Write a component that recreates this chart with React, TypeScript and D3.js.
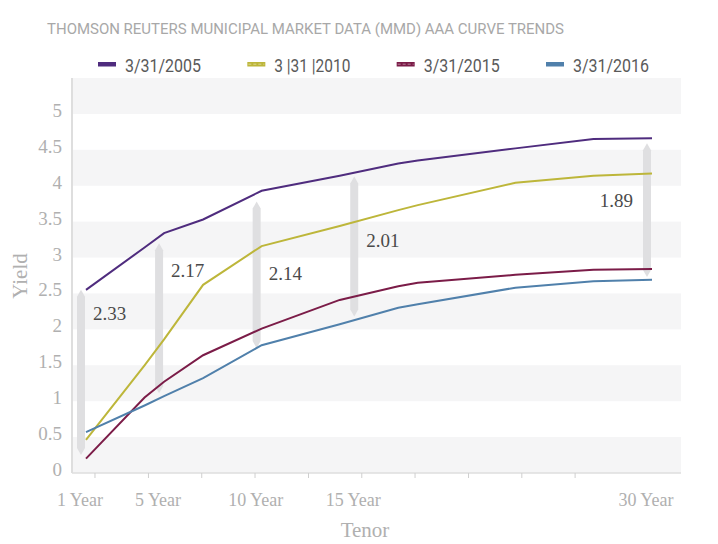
import React from 'react'
import * as d3 from 'd3'

// tenor (years) and MMD AAA yields
const tenors = [1, 4, 5, 7, 10, 14, 17, 18, 23, 27, 30]
const yield2005 = [2.55, 3.14, 3.34, 3.53, 3.93, 4.14, 4.31, 4.35, 4.52, 4.65, 4.66]
const yield2010 = [0.46, 1.5, 1.86, 2.62, 3.16, 3.44, 3.66, 3.73, 4.04, 4.14, 4.17]
const yield2015 = [0.2, 1.05, 1.27, 1.64, 2.01, 2.41, 2.6, 2.65, 2.76, 2.83, 2.84]
const yield2016 = [0.57, 0.94, 1.07, 1.32, 1.78, 2.07, 2.3, 2.35, 2.58, 2.67, 2.69]

const seriesLabels = ['3/31/2005', '3 |31 |2010', '3/31/2015', '3/31/2016']
const seriesColors = ['#4f2c7e', '#bdb63a', '#7b1c48', '#5080ab']

// spread bars
const spreadTenors = [1, 5, 10, 15, 30]
const spreadTop = [2.55, 3.2, 3.78, 4.13, 4.59]
const spreadBottom = [0.25, 1.11, 1.74, 2.18, 2.73]
const spreadLabels = ['2.33', '2.17', '2.14', '2.01', '1.89']
const spreadLabelYield = [2.23, 2.83, 2.79, 3.25, 3.8]

const xTickTenors = [1.46, 4.2, 6.93, 9.66, 12.4, 15.13, 17.86, 20.6, 23.33, 26.06]
const xLabelTenors = [1, 5, 10, 15, 30]
const xLabels = ['1 Year', '5 Year', '10 Year', '15 Year', '30 Year']
const yTicks = [0, 0.5, 1, 1.5, 2, 2.5, 3, 3.5, 4, 4.5, 5]

const title = 'THOMSON REUTERS MUNICIPAL MARKET DATA (MMD) AAA CURVE TRENDS'

const W = 718
const H = 544
const plot = { left: 72, right: 681, top: 78, bottom: 473 }

const serif = '"Liberation Serif", "DejaVu Serif", serif'
const sans = '"Liberation Sans Narrow", Roboto, "Open Sans", sans-serif'

export default function App() {
  const xScale = d3.scaleLinear().domain([1, 30]).range([86, 652])
  const yScale = d3.scaleLinear().domain([0, 5.5]).range([plot.bottom, plot.top])
  const legendX = d3.scalePoint<string>().domain(seriesLabels).range([98, 546])

  const allSeries = [yield2005, yield2010, yield2015, yield2016]

  const line = d3.line<number>()
    .x((_, i) => xScale(tenors[i]))
    .y(d => yScale(d))

  const bands = yTicks.filter(v => Number.isInteger(v))

  const barPath = (x: number, top: number, bottom: number) => {
    const w = 4, tip = 7
    return `M${x},${top} L${x + w},${top + tip} L${x + w},${bottom - tip} L${x},${bottom} L${x - w},${bottom - tip} L${x - w},${top + tip} Z`
  }

  return (
    <svg width={W} height={H} style={{ position: 'absolute', left: 0, top: 0, background: '#fff' }}>
      <text x={47} y={34} fontFamily={sans} fontSize={15} fill="#a8a8a8"
        textLength={517} lengthAdjust="spacingAndGlyphs">{title}</text>

      {/* legend */}
      {seriesLabels.map((s, i) => {
        const x = legendX(s) as number
        return (
          <g key={s}>
            <rect x={x} y={62} width={18} height={4.5} fill={seriesColors[i]} />
            {(i === 1 || i === 2) && (
              <line x1={x + 1} x2={x + 17} y1={64.2} y2={64.2} stroke="#fff" strokeOpacity={0.45}
                strokeWidth={1} strokeDasharray="3,2" />
            )}
            <text x={x + 27} y={72} fontFamily={sans} fontSize={19} fill="#5a5a5a"
              textLength={76} lengthAdjust="spacingAndGlyphs">{s}</text>
          </g>
        )
      })}

      {/* background bands */}
      {bands.map(v => (
        <rect key={v} x={plot.left} width={plot.right - plot.left}
          y={yScale(v + 0.5)} height={yScale(v) - yScale(v + 0.5)} fill="#f5f5f6" />
      ))}

      {/* axes */}
      <line x1={plot.left} x2={plot.left} y1={plot.top} y2={plot.bottom} stroke="#dedede" strokeWidth={2} />
      <line x1={plot.left} x2={plot.right} y1={plot.bottom} y2={plot.bottom} stroke="#dedede" strokeWidth={1.5} />
      {xTickTenors.map(t => (
        <line key={t} x1={xScale(t)} x2={xScale(t)} y1={plot.bottom} y2={plot.bottom + 5} stroke="#cfcfcf" />
      ))}
      {yTicks.map(v => (
        <text key={v} x={62} y={yScale(v) + 3} textAnchor="end" fontFamily={serif} fontSize={19} fill="#b0b0b0">{v}</text>
      ))}
      {xLabels.map((l, i) => (
        <text key={l} x={xScale(xLabelTenors[i]) - 6} y={506} textAnchor="middle" fontFamily={serif}
          fontSize={18} fill="#b0b0b0">{l}</text>
      ))}
      <text x={365} y={537} textAnchor="middle" fontFamily={serif} fontSize={21} fill="#b0b0b0">Tenor</text>
      <text transform="translate(27,276) rotate(-90)" textAnchor="middle" fontFamily={serif} fontSize={21} fill="#b0b0b0">Yield</text>

      {/* spread bars */}
      {spreadTenors.map((t, i) => (
        <path key={t} d={barPath(xScale(t) - 5, yScale(spreadTop[i]), yScale(spreadBottom[i]))} fill="#dfdfe1" />
      ))}

      {/* curves */}
      {allSeries.map((s, i) => (
        <path key={i} d={line(s) || ''} fill="none" stroke={seriesColors[i]} strokeWidth={2} />
      ))}

      {spreadTenors.map((t, i) => {
        const last = i === spreadTenors.length - 1
        return (
          <text key={t} x={xScale(t) - 5 + (last ? -14 : 12)} y={yScale(spreadLabelYield[i]) + 7}
            textAnchor={last ? 'end' : 'start'} fontFamily={serif} fontSize={19} fill="#4a4a4a">
            {spreadLabels[i]}
          </text>
        )
      })}
    </svg>
  )
}
